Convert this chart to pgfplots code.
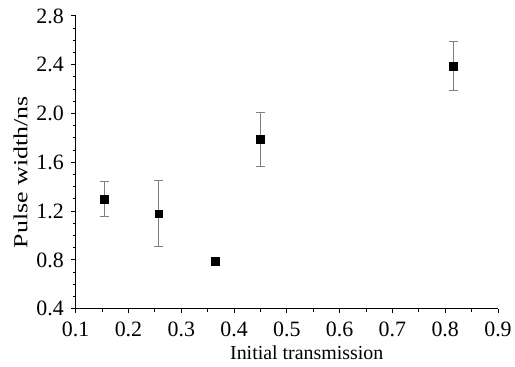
\documentclass[border=0pt]{standalone}
\usepackage{fontspec}
\setmainfont{Liberation Serif}
\usepackage{pgfplots}
\pgfplotsset{compat=1.18}
\begin{document}
\begin{tikzpicture}
\begin{axis}[
  scale only axis,
  width=424pt, height=294pt,
  xmin=0.1, xmax=0.9, ymin=0.4, ymax=2.8,
  axis x line*=bottom, axis y line*=left,
  axis line style={line width=1pt},
  xtick={0.1,0.2,...,0.9},
  ytick={0.4,0.8,...,2.8},
  minor x tick num=1, minor y tick num=3,
  tick align=outside,
  major tick length=4.5pt, minor tick length=3pt,
  every tick/.style={black, line width=0.9pt},
  /pgf/number format/assume math mode=true,
  /pgf/number format/fixed, /pgf/number format/fixed zerofill, /pgf/number format/precision=1,
  ticklabel style={font=\fontsize{22}{24}\selectfont},
  xticklabel style={yshift=-5pt},
  yticklabel style={xshift=-4pt},
  xlabel={Initial transmission},
  ylabel={\scalebox{1.3}[1]{Pulse width/ns}},
  label style={font=\fontsize{20}{22}\selectfont},
  xlabel style={xshift=20pt, yshift=-2pt},
  ylabel style={xshift=-10pt, yshift=2pt},
]
\addplot+[only marks, mark=square*, mark size=3.8pt, black,
  mark options={fill=black},
  error bars/.cd, y dir=both, y explicit,
  error bar style={gray, line width=0.8pt},
  error mark options={rotate=90, mark size=4.5pt, gray, line width=0.8pt}]
  coordinates {
  (0.154,1.30) +- (0,0.14)
  (0.257,1.18) +- (0,0.27)
  (0.364,0.79) +- (0,0.02)
  (0.450,1.79) +- (0,0.22)
  (0.815,2.39) +- (0,0.20)
  };
\end{axis}
\path ([xshift=-76pt,yshift=-58pt]current axis.south west) ([xshift=15pt,yshift=16pt]current axis.north east);
\end{tikzpicture}
\end{document}
